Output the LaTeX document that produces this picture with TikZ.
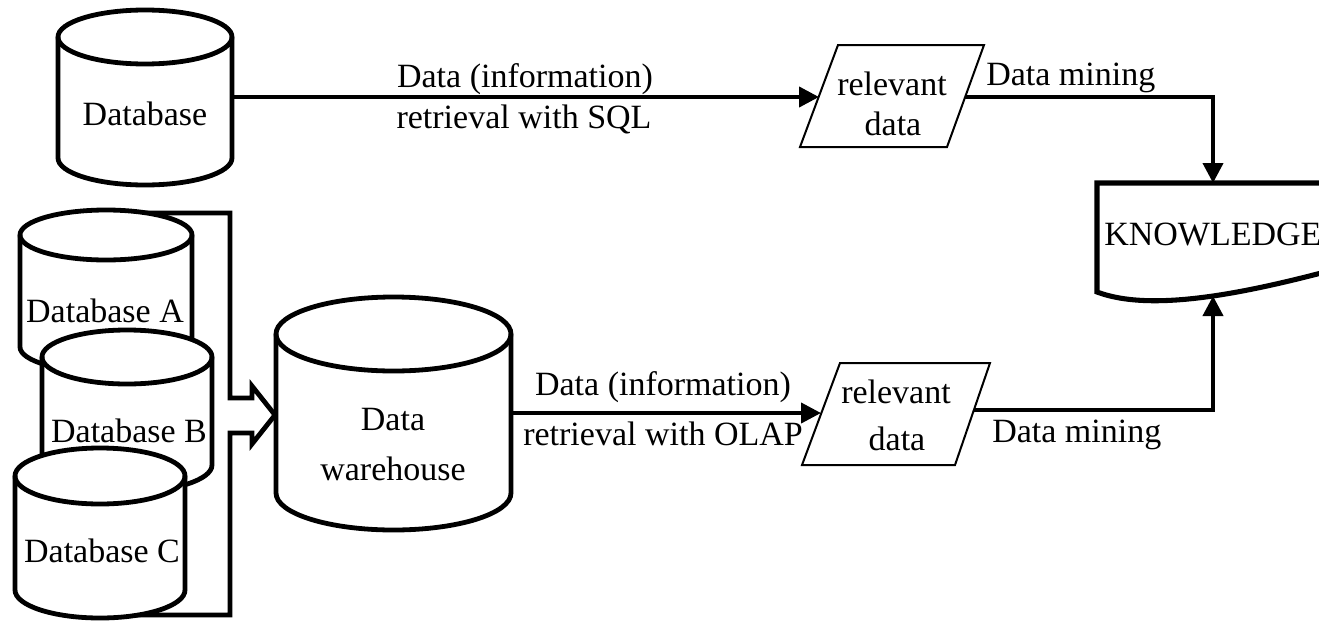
\documentclass[tikz,border=0pt]{standalone}
\usepackage{fontspec}
\setmainfont{Liberation Serif}
\usetikzlibrary{arrows.meta}
\newcommand\mycyl[6]{%
  \draw[cyl] (#2,#3+#6) -- (#2,#5-#6)
    arc[start angle=180,end angle=0,x radius={(#4-#2)/2},y radius=#6]
    -- (#4,#3+#6)
    arc[start angle=0,end angle=-180,x radius={(#4-#2)/2},y radius=#6] -- cycle;
  \draw[cyl,fill=none] (#2,#3+#6)
    arc[start angle=180,end angle=0,x radius={(#4-#2)/2},y radius=#6];
  \coordinate (#1) at ({(#2+#4)/2},{(#3+#5)/2});
}
\begin{document}
\begin{tikzpicture}[x=0.75pt,y=-0.75pt,
  cyl/.style={draw=black,fill=white,line width=3.6pt},
  conn/.style={draw=black,line width=3pt},
  tip/.style={-{Triangle[length=15pt,width=15pt]}},
  lbl/.style={anchor=base,inner sep=0pt,font=\fontsize{25.5}{30}\selectfont},
  para/.style={draw=black,line width=1.5pt,fill=white,line join=miter},
  line join=miter]
\useasboundingbox (0,0) rectangle (1319,621);

% single database
\mycyl{db}{58}{10}{232}{185}{27}
\node[lbl] (dbt) at (145,125) {Database};

% bracket block arrow
\draw[line width=3.6pt] (105,213) -- (230,213) -- (230,398) -- (252,398) -- (252,386)
  -- (275,415) -- (252,444) -- (252,433) -- (230,433) -- (230,615) -- (100,615);

% databases A, B, C
\mycyl{dba}{20}{210}{192}{372}{25}
\node[lbl] (dbat) at (105,322) {Database A};
\mycyl{dbb}{42}{330}{212}{492}{27}
\node[lbl] (dbbt) at (129,442) {Database B};
\mycyl{dbc}{15}{448}{185}{618}{28}
\node[lbl] (dbct) at (102,562) {Database C};

% data warehouse
\mycyl{wh}{276}{297}{511}{530}{37}
\node[lbl] (wht1) at (393,430) {Data};
\node[lbl] (wht2) at (393,480) {warehouse};

% relevant data (upper)
\draw[para] (838,45) -- (984,45) -- (947,147) -- (800,147) -- cycle;
\node[lbl] (rd1a) at (892,95) {relevant};
\node[lbl] (rd1b) at (893,135) {data};
\coordinate (rd1w) at (819,97);
\coordinate (rd1e) at (965,97);

% relevant data (lower)
\draw[para] (840,363) -- (990,363) -- (955,465) -- (802,465) -- cycle;
\node[lbl] (rd2a) at (896,403) {relevant};
\node[lbl] (rd2b) at (897,450) {data};
\coordinate (rd2w) at (821,413);
\coordinate (rd2e) at (974,410);

% knowledge document
\draw[line width=3.8pt,fill=white,line join=miter] (1345,183) -- (1097,183) -- (1097,292)
  .. controls (1150,312) and (1240,295) .. (1340,268) -- (1345,268) -- cycle;
\node[lbl,anchor=base west] (kn) at (1104,245) {KNOWLEDGE};
\coordinate (kntop) at (1213,183);
\coordinate (knbot) at (1213,296);

% connector endpoints on cylinders
\coordinate (dbe) at (232,97);
\coordinate (whe) at (511,413);

% connectors
\draw[conn,tip] (dbe) -- (rd1w);
\draw[conn,tip] (rd1e) -| (kntop);
\draw[conn,tip] (whe) -- (rd2w);
\draw[conn,tip] (rd2e) -| (knbot);

% labels
\node[lbl] (l1) at (525,87) {Data (information)};
\node[lbl] (l2) at (524,128) {retrieval with SQL};
\node[lbl] (l3) at (663,395) {Data (information)};
\node[lbl] (l4) at (663,445) {retrieval with OLAP};
\node[lbl,anchor=base west] (l5) at (986,85) {Data mining};
\node[lbl,anchor=base west] (l6) at (992,442) {Data mining};
\end{tikzpicture}
\end{document}
